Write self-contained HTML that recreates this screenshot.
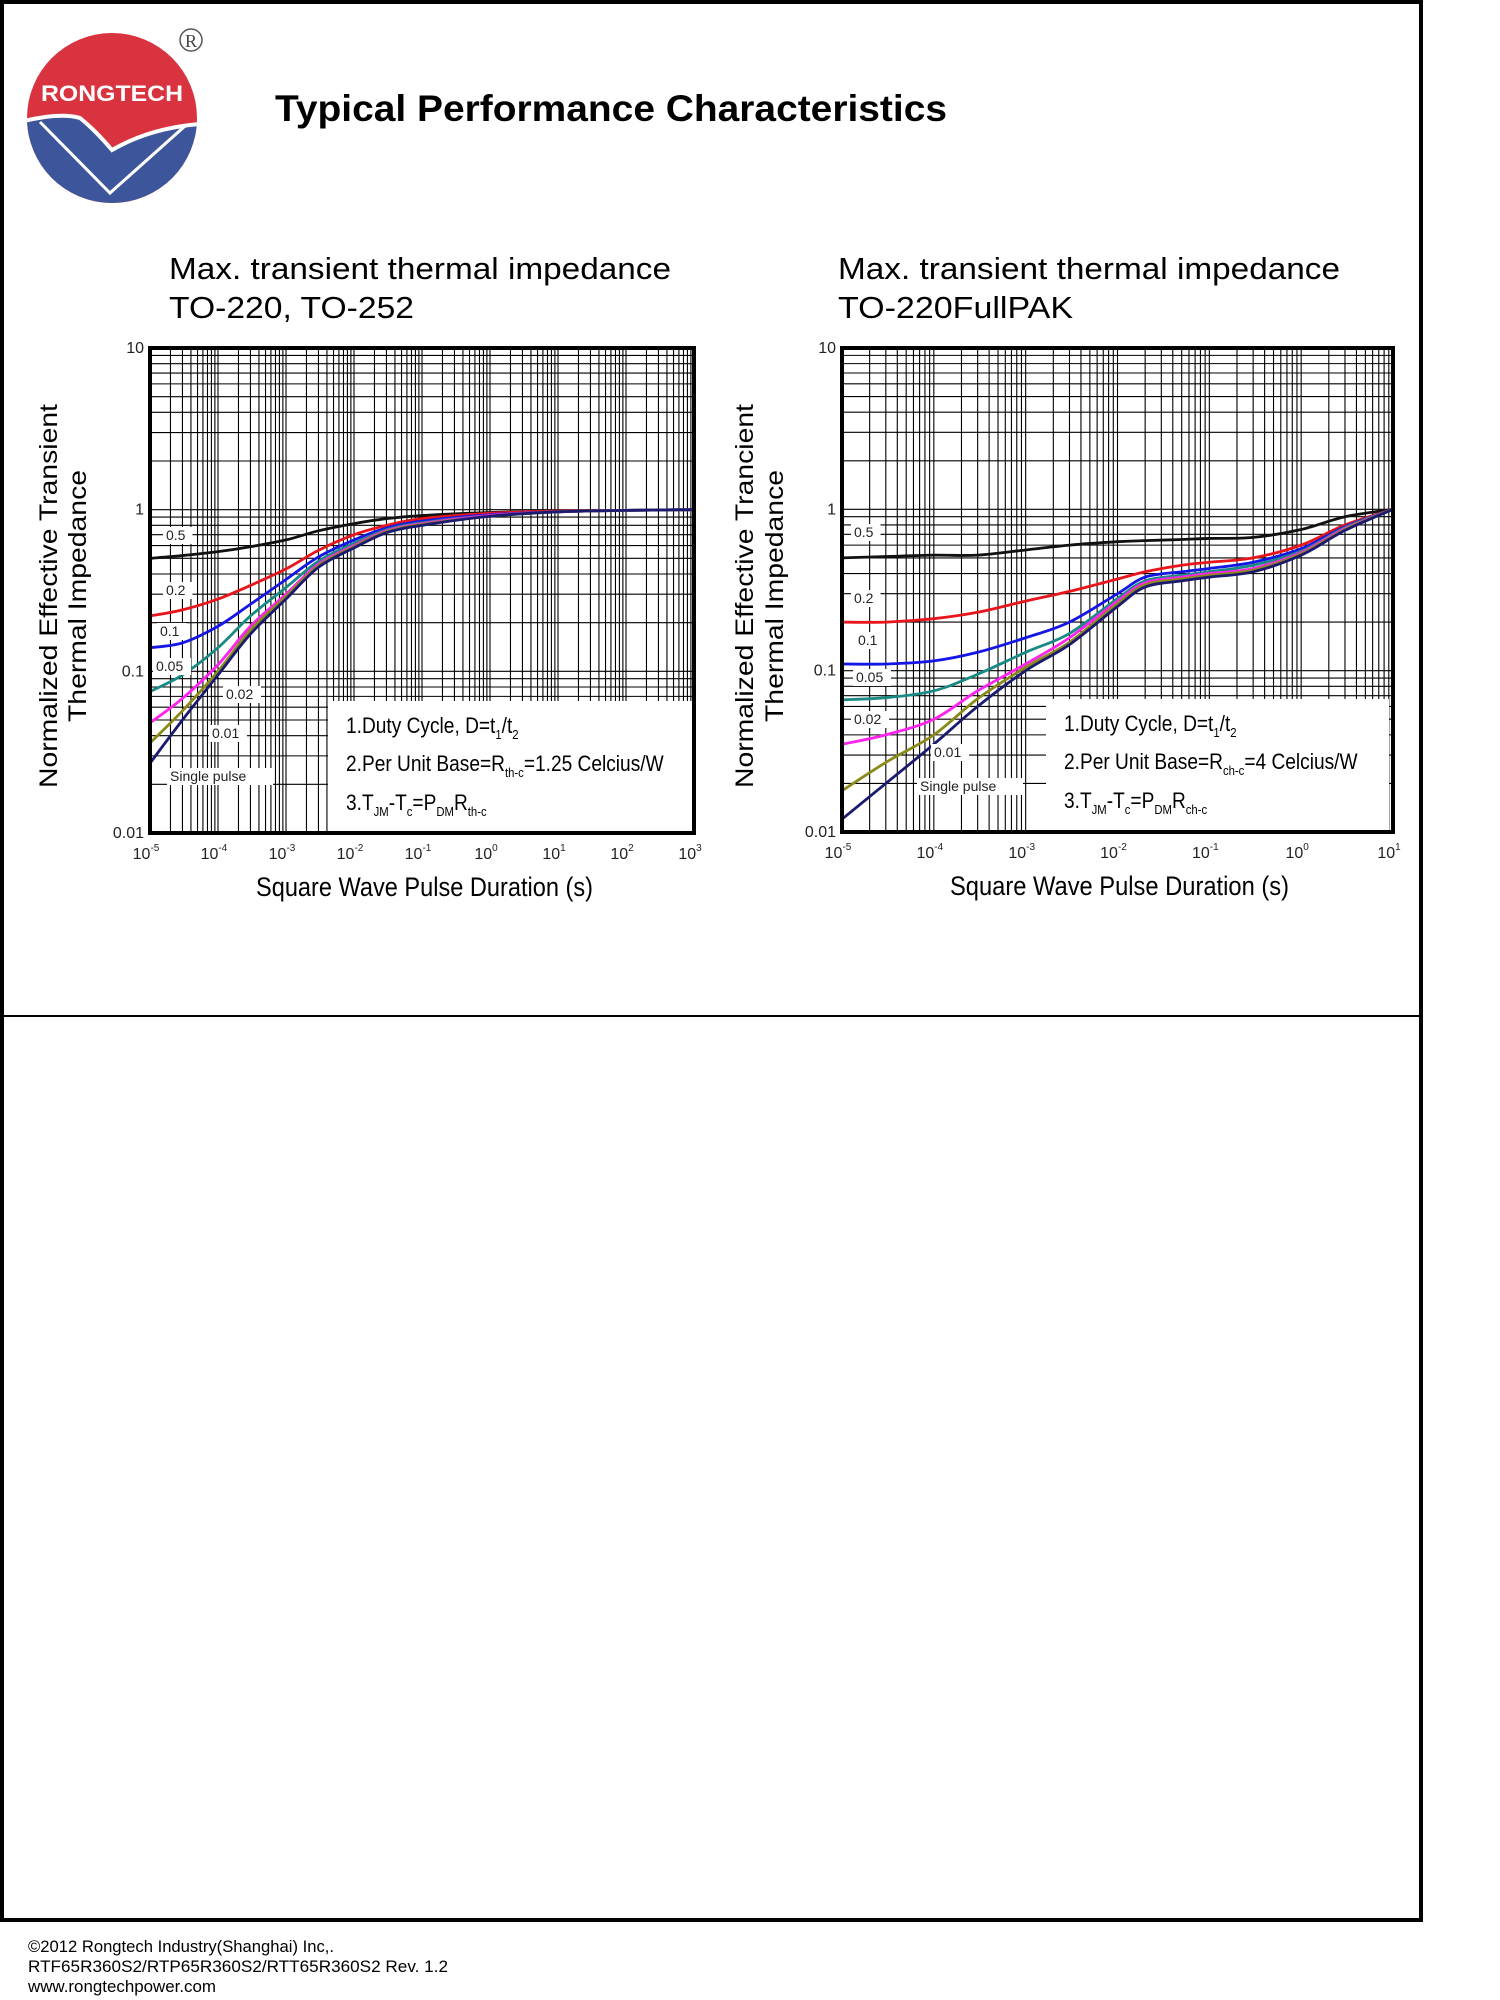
<!DOCTYPE html>
<html><head><meta charset="utf-8"><style>
html,body{margin:0;padding:0;background:#fff;}
svg{display:block;font-family:"Liberation Sans",Arial,sans-serif;}
</style></head><body>
<svg id="pg" width="1500" height="2000" viewBox="0 0 1500 2000" xmlns="http://www.w3.org/2000/svg">
<rect x="0" y="0" width="1500" height="2000" fill="#fff"/>
<rect x="2" y="2" width="1419" height="1918" fill="none" stroke="#000" stroke-width="4"/>
<line x1="0" y1="1016" x2="1421" y2="1016" stroke="#000" stroke-width="2"/>
<g>
  <defs><clipPath id="lc"><circle cx="112" cy="118" r="85"/></clipPath></defs>
  <circle cx="112" cy="118" r="85" fill="#d9333f"/>
  <path clip-path="url(#lc)" d="M20 122 Q60 112 80 118 Q95 130 112 150 Q150 128 200 124 L200 210 L20 210 Z" fill="#3d559b"/>
  <path clip-path="url(#lc)" d="M20 122 Q60 112 80 118 Q95 130 112 150 Q150 128 200 124" fill="none" stroke="#fff" stroke-width="4"/>
  <path clip-path="url(#lc)" d="M40 122 L110 193 L185 126" fill="none" stroke="#fff" stroke-width="3"/>
  <text x="112" y="101" text-anchor="middle" font-size="22" font-weight="bold" fill="#fff" textLength="142" lengthAdjust="spacingAndGlyphs">RONGTECH</text>
  <circle cx="191" cy="40" r="11" fill="none" stroke="#555" stroke-width="1.5"/>
  <text x="191" y="47" text-anchor="middle" font-size="18" font-family="Liberation Serif,serif" fill="#444">R</text>
</g>
<text x="275" y="121" font-size="37" font-weight="bold" textLength="672" lengthAdjust="spacingAndGlyphs">Typical Performance Characteristics</text>
<text x="169" y="279" font-size="31" textLength="502" lengthAdjust="spacingAndGlyphs">Max. transient thermal impedance</text>
<text x="169" y="318" font-size="31" textLength="245" lengthAdjust="spacingAndGlyphs">TO-220, TO-252</text>
<text x="838" y="279" font-size="31" textLength="502" lengthAdjust="spacingAndGlyphs">Max. transient thermal impedance</text>
<text x="838" y="318" font-size="31" textLength="235" lengthAdjust="spacingAndGlyphs">TO-220FullPAK</text>
<g id="c1"></g>
<g id="c2"></g>
<g font-size="16.5">
<text x="28" y="1952" textLength="306" lengthAdjust="spacingAndGlyphs">©2012 Rongtech Industry(Shanghai) Inc,.</text>
<text x="28" y="1972" textLength="420" lengthAdjust="spacingAndGlyphs">RTF65R360S2/RTP65R360S2/RTT65R360S2   Rev. 1.2</text>
<text x="28" y="1992" textLength="188" lengthAdjust="spacingAndGlyphs">www.rongtechpower.com</text>
</g>
</svg>
<script>
// ---- Chart 1 data (TO-220, TO-252) ----
const c1X = [1e-5,3e-5,1e-4,3e-4,1e-3,3e-3,1e-2,3e-2,1e-1,1,10,100,1000];
const c1D05 = [0.50,0.52,0.55,0.59,0.65,0.74,0.82,0.88,0.92,0.96,0.98,0.99,1.0];
const c1D02 = [0.22,0.24,0.28,0.34,0.43,0.56,0.70,0.80,0.88,0.95,0.98,0.99,1.0];
const c1D01 = [0.14,0.15,0.19,0.26,0.37,0.51,0.65,0.77,0.85,0.93,0.97,0.99,1.0];
const c1D005 = [0.075,0.095,0.14,0.22,0.33,0.48,0.62,0.75,0.83,0.92,0.97,0.99,1.0];
const c1D002 = [0.048,0.068,0.11,0.19,0.30,0.46,0.60,0.74,0.82,0.92,0.97,0.99,1.0];
const c1D001 = [0.036,0.057,0.10,0.18,0.29,0.45,0.59,0.73,0.81,0.91,0.97,0.99,1.0];
const c1Single = [0.027,0.050,0.095,0.17,0.28,0.44,0.58,0.72,0.80,0.91,0.97,0.99,1.0];
// ---- Chart 2 data (TO-220FullPAK) ----
const c2X = [1e-5,3e-5,1e-4,3e-4,1e-3,3e-3,1e-2,2e-2,5e-2,1e-1,3e-1,1,3,10];
const c2D05 = [0.50,0.51,0.52,0.52,0.56,0.60,0.63,0.64,0.65,0.66,0.67,0.75,0.90,1.0];
const c2D02 = [0.20,0.20,0.21,0.23,0.27,0.31,0.37,0.41,0.45,0.47,0.50,0.60,0.80,1.0];
const c2D01 = [0.11,0.11,0.115,0.13,0.16,0.20,0.30,0.38,0.41,0.43,0.47,0.57,0.78,1.0];
const c2D005 = [0.066,0.068,0.075,0.095,0.13,0.17,0.28,0.36,0.39,0.41,0.45,0.55,0.77,1.0];
const c2D002 = [0.035,0.040,0.050,0.075,0.11,0.16,0.27,0.35,0.38,0.40,0.43,0.54,0.76,1.0];
const c2D001 = [0.018,0.027,0.040,0.067,0.105,0.15,0.26,0.34,0.37,0.39,0.42,0.53,0.75,1.0];
const c2Single = [0.012,0.020,0.035,0.060,0.10,0.145,0.25,0.33,0.36,0.38,0.41,0.52,0.74,1.0];
const c1XTickExp = [-5,-4,-3,-2,-1,0,1,2,3];
const c2XTickExp = [-5,-4,-3,-2,-1,0,1];
const yTickLabels = ["0.01","0.1","1","10"];
const seriesColors = ["#111","#e8161c","#1515e6","#1a8a86","#ff22ee","#8a8a1a","#1a1a70"];

const NS="http://www.w3.org/2000/svg";
function mk(tag,attrs,parent){const e=document.createElementNS(NS,tag);for(const k in attrs)e.setAttribute(k,attrs[k]);parent.appendChild(e);return e;}

function drawChart(g,cfg){
  const xs=v=>cfg.x0+(Math.log10(v)-cfg.lx0)*(cfg.x1-cfg.x0)/(cfg.lx1-cfg.lx0);
  const ys=v=>cfg.y1-(Math.log10(v)+2)*(cfg.y1-cfg.y0)/3;
  const grid=mk('g',{stroke:'#000','stroke-width':1.1},g);
  
  
  for(let e=cfg.lx0;e<cfg.lx1;e++)for(let m=1;m<10;m++){const X=xs(m*Math.pow(10,e));mk('line',{x1:X,y1:cfg.y0,x2:X,y2:cfg.y1},grid);}
  for(let e=-2;e<1;e++)for(let m=1;m<10;m++){const Y=ys(m*Math.pow(10,e));mk('line',{x1:cfg.x0,y1:Y,x2:cfg.x1,y2:Y},grid);}
  const lb=mk('rect',{x:cfg.lg[0],y:cfg.lg[1],width:cfg.lg[2],height:cfg.lg[3],fill:'#fff'},g);
  
  
  cfg.series.forEach((s,i)=>{
    const pts=cfg.xv.map((x,j)=>[xs(x),ys(s[j])]);
    let d='M'+pts[0][0]+' '+pts[0][1];
    for(let j=0;j<pts.length-1;j++){
      const p0=pts[Math.max(0,j-1)],p1=pts[j],p2=pts[j+1],p3=pts[Math.min(pts.length-1,j+2)];
      const c1x=p1[0]+(p2[0]-p0[0])/6,c1y=p1[1]+(p2[1]-p0[1])/6,c2x=p2[0]-(p3[0]-p1[0])/6,c2y=p2[1]-(p3[1]-p1[1])/6;
      d+=' C'+c1x+' '+c1y+' '+c2x+' '+c2y+' '+p2[0]+' '+p2[1];
    }
    const p=mk('path',{d:d,fill:'none',stroke:seriesColors[i],'stroke-width':2.8},g);
    
    
  });
  cfg.labels.forEach(l=>{
    const w=l[0].length*8.5+4;
    mk('rect',{x:l[1]-3,y:l[2]-13,width:w,height:17,fill:'#fff'},g);
    const t=mk('text',{x:l[1],y:l[2],'font-size':14,fill:'#222'},g);
    t.textContent=l[0];
    
    
  });
  mk('rect',{x:cfg.x0,y:cfg.y0,width:cfg.x1-cfg.x0,height:cfg.y1-cfg.y0,fill:'none',stroke:'#000','stroke-width':4},g);
  yTickLabels.forEach((lab,i)=>{
    const t=mk('text',{x:cfg.x0-6,y:ys(Math.pow(10,i-2))+5,'text-anchor':'end','font-size':16,fill:'#222'},g);
    t.textContent=lab;
    
    
  });
  cfg.xt.forEach(e=>{
    const t=mk('text',{x:xs(Math.pow(10,e))-4,y:cfg.y1+26,'text-anchor':'middle','font-size':16,fill:'#222'},g);
    
    
    const a=mk('tspan',{},t);a.textContent='10';
    const b=mk('tspan',{dy:-8,'font-size':10},t);b.textContent=String(e);
  });
  const xt=mk('text',{x:cfg.xtx,y:cfg.y1+63,'font-size':27,textLength:cfg.xtw,lengthAdjust:'spacingAndGlyphs'},g);
  xt.textContent='Square Wave Pulse Duration (s)';
  
  
  const cy=596;
  const y1=mk('text',{x:0,y:0,'font-size':25,'text-anchor':'middle',transform:'translate('+cfg.yl1+','+cy+') rotate(-90)',textLength:384,lengthAdjust:'spacingAndGlyphs'},g);
  y1.textContent=cfg.ytitle1;
  
  
  const y2=mk('text',{x:0,y:0,'font-size':25,'text-anchor':'middle',transform:'translate('+cfg.yl2+','+cy+') rotate(-90)',textLength:252,lengthAdjust:'spacingAndGlyphs'},g);
  y2.textContent='Thermal Impedance';
  
  
  const nx=cfg.lg[0]+18, ny=cfg.lg[1];
  const notes=mk('g',{'font-size':22,transform:'translate('+nx+',0) scale(0.87,1)'},g);
  
  
  notes.innerHTML=
   '<text x="0" y="'+(ny+32)+'">1.Duty Cycle, D=t<tspan dy="6" font-size="13">1</tspan><tspan dy="-6">/t</tspan><tspan dy="6" font-size="13">2</tspan></text>'+
   '<text x="0" y="'+(ny+70)+'">2.Per Unit Base=R<tspan dy="6" font-size="13">'+cfg.sub+'</tspan><tspan dy="-6">='+cfg.base+' Celcius/W</tspan></text>'+
   '<text x="0" y="'+(ny+109)+'">3.T<tspan dy="6" font-size="13">JM</tspan><tspan dy="-6">-T</tspan><tspan dy="6" font-size="13">c</tspan><tspan dy="-6">=P</tspan><tspan dy="6" font-size="13">DM</tspan><tspan dy="-6">R</tspan><tspan dy="6" font-size="13">'+cfg.sub+'</tspan></text>';
}
const names=['d0.5','d0.2','d0.1','d0.05','d0.02','d0.01','single-pulse'];
drawChart(document.getElementById('c1'),{x0:150,x1:694,y0:348,y1:833,lx0:-5,lx1:3,xv:c1X,
 series:[c1D05,c1D02,c1D01,c1D005,c1D002,c1D001,c1Single],names:names,xt:c1XTickExp,
 lg:[328,701,364,132],sub:'th-c',base:'1.25',xtx:256,xtw:337,yl1:57,yl2:86,ytitle1:'Normalized Effective Transient',
 labels:[['0.5',166,540],['0.2',166,595],['0.1',160,636],['0.05',156,671],['0.02',226,699],['0.01',212,738],['Single pulse',170,781]]});
drawChart(document.getElementById('c2'),{x0:842,x1:1393,y0:348,y1:832,lx0:-5,lx1:1,xv:c2X,
 series:[c2D05,c2D02,c2D01,c2D005,c2D002,c2D001,c2Single],names:names,xt:c2XTickExp,
 lg:[1046,699,343,133],sub:'ch-c',base:'4',xtx:950,xtw:339,yl1:753,yl2:783,ytitle1:'Normalized Effective Trancient',
 labels:[['0.5',854,537],['0.2',854,603],['0.1',858,645],['0.05',856,682],['0.02',854,724],['0.01',934,757],['Single pulse',920,791]]});
</script>
</body></html>
